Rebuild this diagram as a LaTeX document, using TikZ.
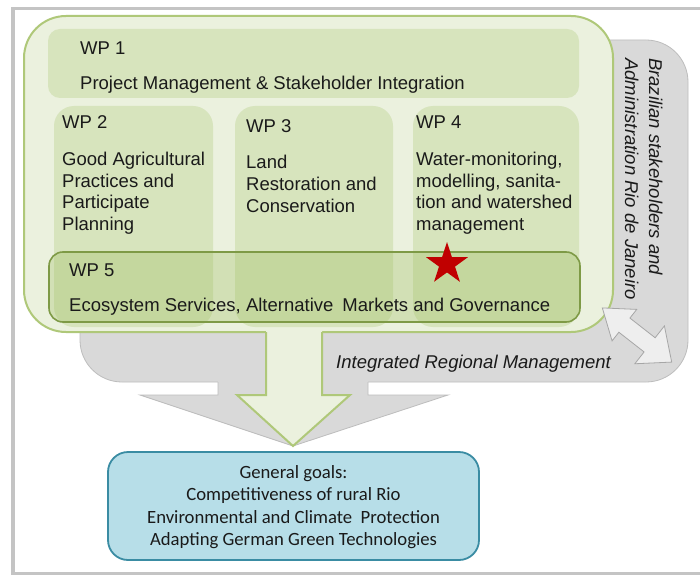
\documentclass[tikz,border=0pt]{standalone}
\usepackage{fontspec}
\setmainfont{Liberation Sans}
\newfontfamily\calib{Carlito}
\usetikzlibrary{shapes.geometric}

\definecolor{framegray}{HTML}{C4C4C4}
\definecolor{graybg}{HTML}{D9D9D9}
\definecolor{grayedge}{HTML}{BDBDBD}
\definecolor{lightgreen}{HTML}{EBF1DE}
\definecolor{greenedge}{HTML}{AFC879}
\definecolor{wpgreen}{HTML}{D7E4BD}
\definecolor{wpfivedge}{HTML}{7E9A46}
\definecolor{wpfivefill}{HTML}{9BBB59}
\definecolor{goalfill}{HTML}{B7DEE8}
\definecolor{goaledge}{HTML}{3A8CA3}
\definecolor{starred}{HTML}{C00000}
\definecolor{txt}{HTML}{1A1A1A}
\definecolor{dblfill}{HTML}{EEEEEE}
\definecolor{dbledge}{HTML}{A6A6A6}

\begin{document}
\begin{tikzpicture}[x=1pt,y=-1pt,
  wpbox/.style={rectangle, fill=wpgreen, draw=none, rounded corners=20pt, inner sep=0pt},
  lbl/.style={anchor=base west, inner sep=0pt, font=\fontsize{18.5}{21.6}\selectfont, text=txt},
  para/.style={anchor=north west, inner sep=0pt, align=left, font=\fontsize{18.5}{21.6}\selectfont, text=txt},
  side/.style={anchor=base west, inner sep=0pt, rotate=-90, font=\fontsize{18.5}{21.6}\selectfont\itshape, text=txt}]

\useasboundingbox (0,0) rectangle (700,577);
\fill[white] (0,0) rectangle (700,577);

% slide frame
\draw[framegray, line width=3.5pt] (701,8.5) -- (13,8.5) -- (13,573.5) -- (701,573.5);

% gray regional-management body and its arrow
\node[rectangle, rounded corners=42pt, fill=graybg, draw=grayedge, line width=0.8pt,
      minimum width=608pt, minimum height=342pt, inner sep=0pt] (grayzone) at (384,211) {};
\fill[graybg] (218,380) -- (368,380) -- (368,395) -- (448,395) -- (293,446) -- (140,395) -- (218,395) -- cycle;
\draw[grayedge, line width=0.8pt, line join=miter] (218,382) -- (218,395) -- (140,395) -- (293,446) -- (448,395) -- (368,395) -- (368,382);

% project container
\node[rectangle, rounded corners=42pt, fill=lightgreen, draw=greenedge, line width=2pt,
      minimum width=589pt, minimum height=316pt, inner sep=0pt] (container) at (318.5,174) {};

% work package boxes
\node[wpbox, rounded corners=12pt, minimum width=531pt, minimum height=69pt] (wp1) at (313.5,63.5) {};
\node[wpbox, minimum width=159pt, minimum height=221pt] (wp2) at (133.5,216.5) {};
\node[wpbox, minimum width=158pt, minimum height=221pt] (wp3) at (314,216.5) {};
\node[wpbox, minimum width=166pt, minimum height=221pt] (wp4) at (496,216.5) {};
\node[rectangle, rounded corners=14pt, fill=wpfivefill, fill opacity=0.3, draw=wpfivedge, line width=1.6pt,
      minimum width=531pt, minimum height=70pt, inner sep=0pt] (wp5) at (314.5,287) {};

% green arrow
\fill[lightgreen] (266,329) -- (322,329) -- (322,395) -- (350,395) -- (293,446) -- (237,395) -- (266,395) -- cycle;
\draw[greenedge, line width=2pt, line join=miter] (266,332) -- (266,395) -- (237,395) -- (293,446) -- (350,395) -- (322,395) -- (322,332);

% double arrow
\begin{scope}[shift={(637,335)}, rotate=-38]
  \filldraw[fill=dblfill, draw=dbledge, line width=0.8pt, line join=miter]
    (-44,0) -- (-16,-20) -- (-16,-9) -- (16,-9) -- (16,-24) -- (44,0) -- (16,24) -- (16,9) -- (-16,9) -- (-16,20) -- cycle;
\end{scope}

% texts
\node[lbl] (wp1t) at (80,55) {WP 1};
\node[lbl] (wp1d) at (80,89.5) {Project Management \& Stakeholder Integration};
\node[lbl] (wp2t) at (62,129) {WP 2};
\node[para] (wp2d) at (62,151.8) {Good Agricultural\\Practices and\\Participate\\Planning};
\node[lbl] (wp3t) at (246,133) {WP 3};
\node[para] (wp3d) at (246,155.3) {Land\\Restoration and\\Conservation};
\node[lbl] (wp4t) at (416,129) {WP 4};
\node[para] (wp4d) at (416,151.8) {Water-monitoring,\\modelling, sanita-\\tion and watershed\\management};
\node[lbl] (wp5t) at (69,276.5) {WP 5};
\node[lbl] (wp5d) at (69,311) {Ecosystem Services, Alternative\hspace{9pt}Markets and Governance};

\node[star, star points=5, star point ratio=2.618, minimum size=44pt, inner sep=0pt, fill=starred] (star) at (447,264) {};

\node[lbl, font=\fontsize{18.5}{21.6}\selectfont\itshape] (irm) at (336,368) {Integrated Regional Management};
\node[side] (br1) at (649,58) {Brazilian stakeholders and};
\node[side] (br2) at (625,58) {Administration Rio de Janeiro};

% general goals
\node[rectangle, rounded corners=20pt, fill=goalfill, draw=goaledge, line width=1.8pt,
      minimum width=371pt, minimum height=108pt, inner sep=0pt] (goals) at (293.5,506) {};
\node[anchor=north, inner sep=0pt, align=center, text=txt, font=\calib\fontsize{18.7}{22.3}\selectfont] (goalst) at (293.5,465.5)
  {General goals:\\Competitiveness of rural Rio\\Environmental and Climate\ \ Protection\\Adapting German Green Technologies};

\end{tikzpicture}
\end{document}
